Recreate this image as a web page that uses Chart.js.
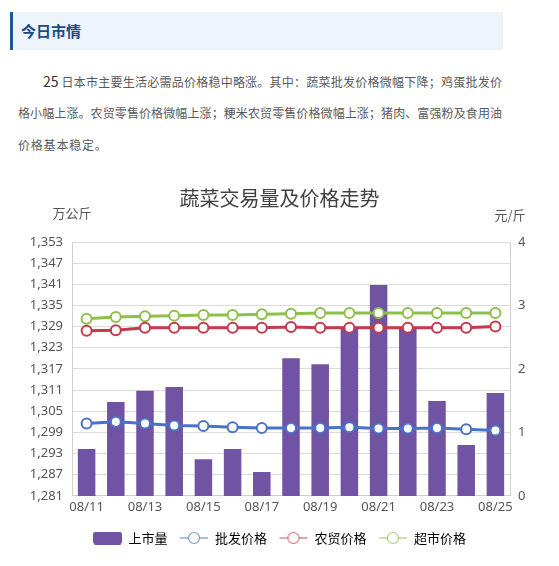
<!DOCTYPE html>
<html>
<head>
<meta charset="utf-8">
<script src="https://cdn.jsdelivr.net/npm/chart.js@4.4.1/dist/chart.umd.min.js"></script>
<style>
  html, body { margin: 0; padding: 0; background: #fff; }
  body { width: 559px; height: 566px; position: relative; overflow: hidden;
         font-family: "Noto Sans CJK SC", "Noto Sans", sans-serif; }
  .head { position: absolute; left: 10px; top: 12px; width: 493px; height: 38px;
          background: #eef4fc; border-left: 3px solid #1d5a9a; box-sizing: border-box;
          padding-left: 8px; line-height: 38px; font-size: 15px; font-weight: bold; color: #1a4c86; }
  .para { position: absolute; left: 18px; top: 65px; width: 484px; color: #5a5a5a; font-size: 12px; }
  .para div { height: 32px; line-height: 32px; text-align: justify; text-align-last: justify; }
  .para div.last { text-align: left; text-align-last: left; letter-spacing: 0.8px; }
  .para b { font-size: 14px; color: #333; font-weight: normal; }
  #chart { position: absolute; left: 0; top: 170px; }
</style>
</head>
<body>
<div class="head">今日市情</div>
<div class="para">
  <div style="padding-left:25px"><b>25</b> 日本市主要生活必需品价格稳中略涨。其中：蔬菜批发价格微幅下降；鸡蛋批发价</div>
  <div>格小幅上涨。农贸零售价格微幅上涨；粳米农贸零售价格微幅上涨；猪肉、富强粉及食用油</div>
  <div class="last">价格基本稳定。</div>
</div>
<canvas id="chart" width="559" height="396"></canvas>
<script>
// 数据
const days = ['08/11', '08/12', '08/13', '08/14', '08/15', '08/16', '08/17', '08/18',
              '08/19', '08/20', '08/21', '08/22', '08/23', '08/24', '08/25'];
const volume = [1294.3, 1307.6, 1310.8, 1311.9, 1291.4, 1294.3, 1287.8, 1320.0,
                1318.3, 1328.6, 1340.8, 1328.6, 1307.9, 1295.4, 1310.2];
const wholesale = [1.14, 1.17, 1.14, 1.11, 1.10, 1.08, 1.07, 1.07, 1.07, 1.08, 1.06, 1.06, 1.07, 1.05, 1.03];
const farmMarket = [2.60, 2.61, 2.65, 2.65, 2.65, 2.65, 2.65, 2.66, 2.65, 2.65, 2.65, 2.65, 2.65, 2.65, 2.67];
const supermarket = [2.79, 2.82, 2.83, 2.84, 2.85, 2.85, 2.86, 2.87, 2.88, 2.88, 2.88, 2.88, 2.88, 2.88, 2.88];
const seriesNames = ['上市量', '批发价格', '农贸价格', '超市价格'];
const leftUnit = '万公斤';
const rightUnit = '元/斤';

const purple = '#7153a3';
const blue = '#4a72c8';
const red = '#c23a4c';
const green = '#8dc04a';

function lineIcon(color) {
  const c = document.createElement('canvas');
  c.width = 30; c.height = 14;
  const g = c.getContext('2d');
  g.globalAlpha = 0.6;
  g.strokeStyle = color; g.lineWidth = 1.5;
  g.beginPath(); g.moveTo(1, 7); g.lineTo(29, 7); g.stroke();
  g.globalAlpha = 1;
  g.fillStyle = '#fff';
  g.beginPath(); g.arc(15, 7, 5.5, 0, Math.PI * 2); g.fill();
  g.globalAlpha = 0.7; g.lineWidth = 1.2; g.stroke();
  return c;
}
function barIcon(color) {
  const c = document.createElement('canvas');
  c.width = 29; c.height = 13;
  const g = c.getContext('2d');
  g.fillStyle = color;
  g.beginPath(); g.roundRect(0, 0, 29, 13, 3); g.fill();
  return c;
}
const icons = [barIcon(purple), lineIcon(blue), lineIcon(red), lineIcon(green)];

// 轴单位
const unitLabels = {
  id: 'unitLabels',
  afterDraw(chart) {
    const ctx = chart.ctx, a = chart.chartArea;
    ctx.save();
    ctx.font = '13px "Noto Sans CJK SC"';
    ctx.fillStyle = '#555';
    ctx.textAlign = 'center';
    ctx.textBaseline = 'middle';
    ctx.fillText(leftUnit, a.left, a.top - 29);
    ctx.fillText(rightUnit, a.right, a.top - 27);
    ctx.restore();
  }
};

function priceLine(label, data, color) {
  return {
    type: 'line', label: label, data: data, yAxisID: 'y1', order: 0,
    borderColor: color, borderWidth: 3, pointRadius: 5, pointHoverRadius: 5,
    pointBorderWidth: 2, pointBackgroundColor: '#fff', pointBorderColor: color,
    tension: 0
  };
}

new Chart(document.getElementById('chart'), {
  data: {
    labels: days,
    datasets: [
      { type: 'bar', label: seriesNames[0], data: volume, yAxisID: 'y', order: 1,
        backgroundColor: purple, barPercentage: 0.6, categoryPercentage: 1 },
      priceLine(seriesNames[1], wholesale, blue),
      priceLine(seriesNames[2], farmMarket, red),
      priceLine(seriesNames[3], supermarket, green)
    ]
  },
  options: {
    responsive: false,
    animation: false,
    layout: { padding: { bottom: 11.5 } },
    plugins: {
      title: {
        display: true, text: '蔬菜交易量及价格走势', color: '#404040',
        font: { size: 20, family: '"Noto Sans CJK SC"', weight: 'normal' },
        padding: { top: 16, bottom: 32 }
      },
      legend: {
        position: 'bottom',
        labels: {
          usePointStyle: true, pointStyleWidth: 29, padding: 12, color: '#555',
          font: { size: 13, family: '"Noto Sans CJK SC"' },
          generateLabels: (chart) => chart.data.datasets.map((ds, i) => ({
            text: ds.label, pointStyle: icons[i], datasetIndex: i,
            fillStyle: 'transparent', strokeStyle: 'transparent', lineWidth: 0
          }))
        }
      },
      tooltip: { enabled: false }
    },
    scales: {
      x: {
        grid: { display: false, drawTicks: false },
        border: { color: '#d0d0d0' },
        ticks: {
          autoSkip: false, maxRotation: 0, padding: 4, color: '#555',
          font: { size: 13, family: '"Noto Sans"' },
          callback: (v, i) => (i % 2 === 0 ? days[i] : '')
        }
      },
      y: {
        position: 'left', min: 1281, max: 1353,
        afterFit: (s) => { s.width = 72; },
        grid: { color: '#dcdcdc', drawTicks: false },
        border: { color: '#d0d0d0' },
        ticks: { stepSize: 6, padding: 9, color: '#555', font: { size: 13, family: '"Noto Sans"' } }
      },
      y1: {
        position: 'right', min: 0, max: 4,
        afterFit: (s) => { s.width = 49; },
        grid: { display: false, drawTicks: false },
        border: { color: '#d0d0d0' },
        ticks: { stepSize: 1, padding: 8, color: '#555', font: { size: 13, family: '"Noto Sans"' } }
      }
    }
  },
  plugins: [unitLabels]
});
</script>
</body>
</html>
